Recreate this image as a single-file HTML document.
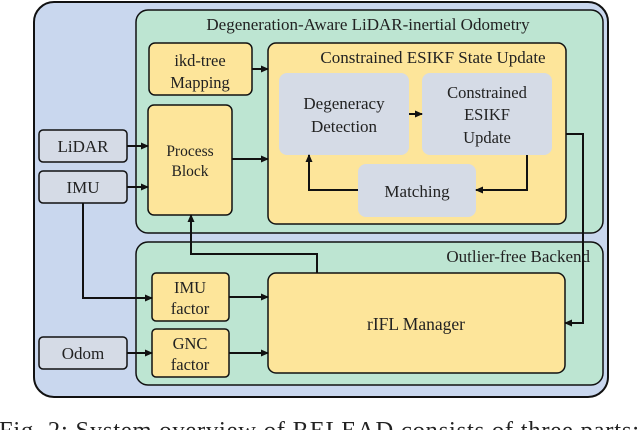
<!DOCTYPE html>
<html><head><meta charset="utf-8"><style>
html,body{margin:0;padding:0;background:#fff;width:640px;height:430px;overflow:hidden}
text{font-family:"Liberation Serif",serif;fill:#222}
</style></head><body>
<svg width="640" height="430" viewBox="0 0 640 430" xmlns="http://www.w3.org/2000/svg">
<defs><marker id="a" markerWidth="8" markerHeight="8" refX="7" refY="4" orient="auto" markerUnits="userSpaceOnUse"><path d="M0,0.5 L8,4 L0,7.5 z" fill="#111"/></marker></defs>
<rect x="34" y="2" width="574" height="395" rx="20" fill="#c9d7ee" stroke="#111" stroke-width="2"/>
<rect x="136" y="10" width="467" height="223" rx="12" fill="#bde5d2" stroke="#111" stroke-width="1.5"/>
<rect x="136" y="242" width="467" height="143" rx="12" fill="#bde5d2" stroke="#111" stroke-width="1.5"/>
<text x="368" y="30" font-size="17" text-anchor="middle">Degeneration-Aware LiDAR-inertial Odometry</text>
<text x="590" y="262" font-size="17" text-anchor="end">Outlier-free Backend</text>
<rect x="149" y="43" width="103" height="52" rx="6" fill="#fde59a" stroke="#111" stroke-width="1.5"/>
<text x="200" y="66" font-size="16.5" text-anchor="middle">ikd-tree</text>
<text x="200" y="88" font-size="16.5" text-anchor="middle">Mapping</text>
<rect x="148" y="105" width="84" height="110" rx="6" fill="#fde59a" stroke="#111" stroke-width="1.5"/>
<text x="190" y="156" font-size="15.5" text-anchor="middle">Process</text>
<text x="190" y="176" font-size="15.5" text-anchor="middle">Block</text>
<rect x="268" y="43" width="298" height="181" rx="8" fill="#fde59a" stroke="#111" stroke-width="1.5"/>
<text x="433" y="63" font-size="17" text-anchor="middle">Constrained ESIKF State Update</text>
<rect x="279" y="73" width="130" height="82" rx="8" fill="#d5dbe6"/>
<text x="344" y="109" font-size="17" text-anchor="middle" fill="#333">Degeneracy</text>
<text x="344" y="132" font-size="17" text-anchor="middle" fill="#333">Detection</text>
<rect x="422" y="73" width="130" height="82" rx="8" fill="#d5dbe6"/>
<text x="487" y="98" font-size="16.5" text-anchor="middle" fill="#333">Constrained</text>
<text x="487" y="120" font-size="16.5" text-anchor="middle" fill="#333">ESIKF</text>
<text x="487" y="143" font-size="16.5" text-anchor="middle" fill="#333">Update</text>
<rect x="358" y="164" width="118" height="53" rx="8" fill="#d5dbe6"/>
<text x="417" y="197" font-size="17" text-anchor="middle" fill="#333">Matching</text>
<rect x="39" y="130" width="88" height="32" rx="4" fill="#d5dbe6" stroke="#111" stroke-width="1.5"/>
<text x="83" y="152" font-size="17" text-anchor="middle">LiDAR</text>
<rect x="39" y="171" width="88" height="32" rx="4" fill="#d5dbe6" stroke="#111" stroke-width="1.5"/>
<text x="83" y="193" font-size="17" text-anchor="middle">IMU</text>
<rect x="39" y="337" width="88" height="32" rx="4" fill="#d5dbe6" stroke="#111" stroke-width="1.5"/>
<text x="83" y="359" font-size="17" text-anchor="middle">Odom</text>
<rect x="152" y="273" width="77" height="48" rx="4" fill="#fde59a" stroke="#111" stroke-width="1.5"/>
<text x="190" y="293" font-size="16.5" text-anchor="middle">IMU</text>
<text x="190" y="314" font-size="16.5" text-anchor="middle">factor</text>
<rect x="152" y="329" width="77" height="48" rx="4" fill="#fde59a" stroke="#111" stroke-width="1.5"/>
<text x="190" y="349" font-size="16.5" text-anchor="middle">GNC</text>
<text x="190" y="370" font-size="16.5" text-anchor="middle">factor</text>
<rect x="268" y="273" width="297" height="100" rx="8" fill="#fde59a" stroke="#111" stroke-width="1.5"/>
<text x="416" y="330" font-size="17.5" text-anchor="middle">rIFL Manager</text>
<g stroke="#111" stroke-width="2" fill="none" marker-end="url(#a)">
<path d="M127,146 H148"/>
<path d="M127,187 H148"/>
<path d="M252,69 H268"/>
<path d="M232,159 H268"/>
<path d="M409,114 H422"/>
<path d="M527,155 V190 H476"/>
<path d="M358,190 H309 V155"/>
<path d="M566,134 H583 V323 H565"/>
<path d="M83,203 V298 H152"/>
<path d="M127,353 H152"/>
<path d="M229,297 H268"/>
<path d="M229,353 H268"/>
<path d="M317,273 V254 H191 V215"/>
</g>
<text x="-1" y="438" font-size="24.5" textLength="640" lengthAdjust="spacing">Fig. 2: System overview of RELEAD consists of three parts:</text>
</svg>
</body></html>
